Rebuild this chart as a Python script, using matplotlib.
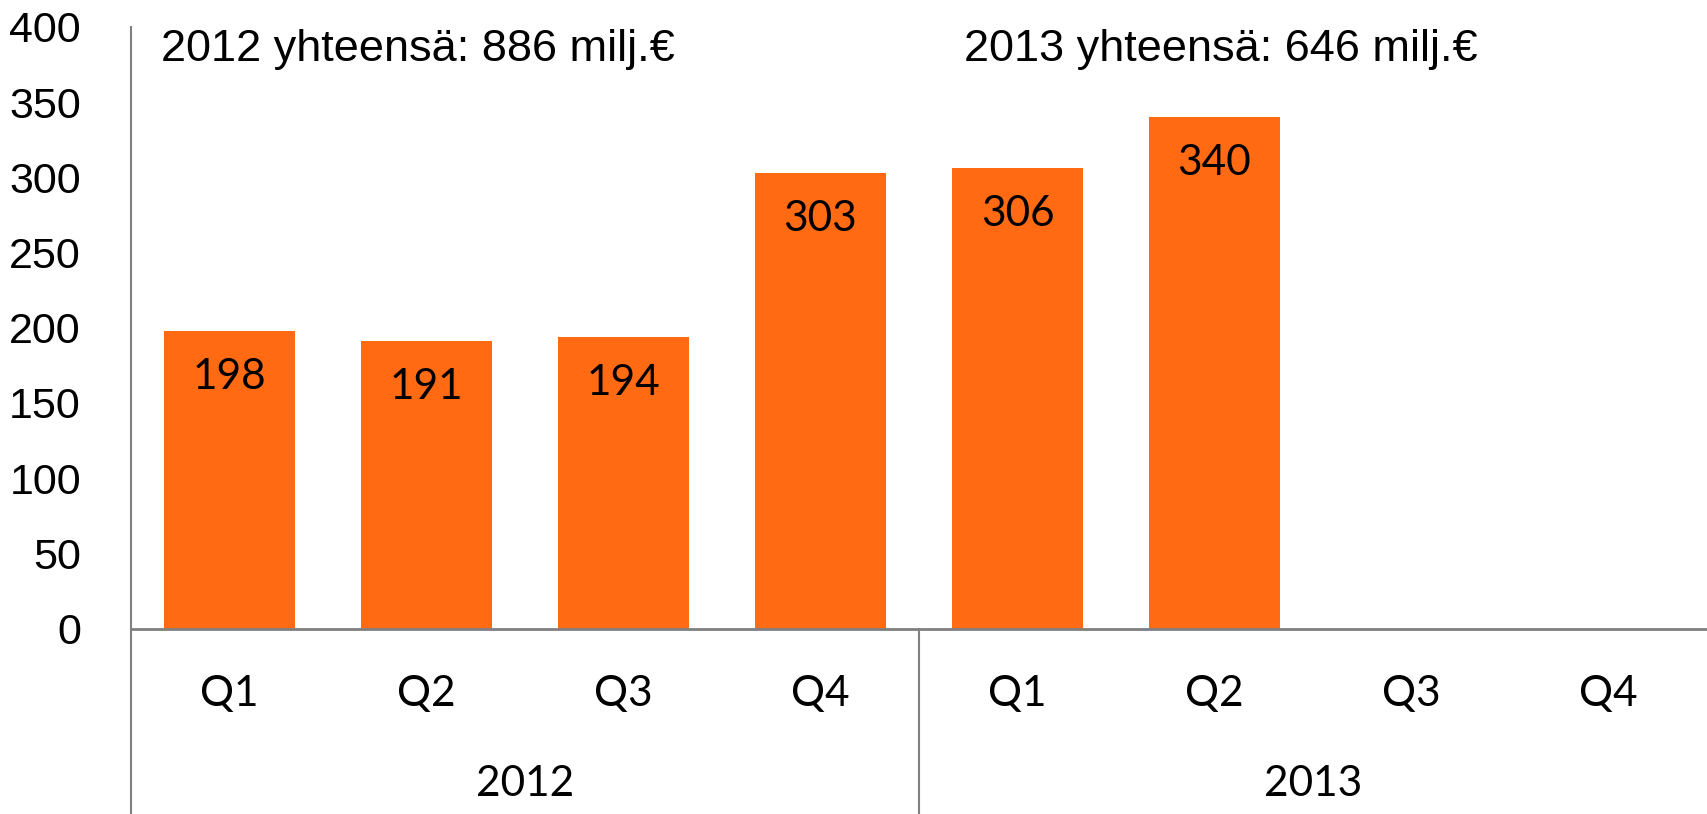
import matplotlib
matplotlib.use('Agg')
import matplotlib.pyplot as plt
import matplotlib.transforms as mtransforms
from matplotlib import font_manager

quarters = ['Q1', 'Q2', 'Q3', 'Q4', 'Q1', 'Q2', 'Q3', 'Q4']
years = ['2012', '2013']
values = [198, 191, 194, 303, 306, 340]
totals = ['2012 yhteensä: 886 milj.€', '2013 yhteensä: 646 milj.€']
yticks = [0, 50, 100, 150, 200, 250, 300, 350, 400]

ORANGE = '#FF6A13'
GRAY = '#808080'

names = {f.name for f in font_manager.fontManager.ttflist}
narrow = 'Liberation Sans Narrow' if 'Liberation Sans Narrow' in names else 'Liberation Sans'
label_font = 'Lato'

W, H = 1708, 814
fig = plt.figure(figsize=(W / 100, H / 100), dpi=100)
ax = fig.add_axes([131 / W, (H - 628.5) / H, (1707 - 131) / W, (628.5 - 27) / H])

xs = list(range(len(values)))
ax.bar(xs, values, width=0.67, color=ORANGE)
for x, v in zip(xs, values):
    ax.annotate(str(v), (x, v), xytext=(0, -33), textcoords='offset points',
                ha='center', va='center', fontsize=30.5, family=label_font, color='black')

ax.set_xlim(-0.5, len(quarters) - 0.5)
ax.set_ylim(0, 400)
ax.set_yticks(yticks)
ax.set_yticklabels([str(t) for t in yticks], fontsize=31, family=narrow)
ax.tick_params(axis='y', length=0, pad=36)
ax.set_xticks([])

for s in ['top', 'right', 'left']:
    ax.spines[s].set_visible(False)
ax.spines['bottom'].set_color(GRAY)
ax.spines['bottom'].set_linewidth(2)

# category axis lines below the plot
bot = -(H - 628.5) / (628.5 - 27)
trans = mtransforms.blended_transform_factory(ax.transData, ax.transAxes)
ax.plot([-0.5, -0.5], [bot, 1], transform=trans, color=GRAY, lw=1.5, clip_on=False)
ax.plot([3.5, 3.5], [bot, 0], transform=trans, color=GRAY, lw=1.5, clip_on=False)

for i, q in enumerate(quarters):
    ax.text(i, -66 / 601.5, q, transform=trans, ha='center', va='center',
            fontsize=30.5, family=label_font)
for j, y in enumerate(years):
    ax.text(1.5 + 4 * j, -156 / 601.5, y, transform=trans, ha='center', va='center',
            fontsize=30.5, family=label_font)

ax.text(-0.35, 1 - 22 / 601.5, totals[0], transform=trans, ha='left', va='center',
        fontsize=32.5, family=narrow)
ax.text(3.73, 1 - 22 / 601.5, totals[1], transform=trans, ha='left', va='center',
        fontsize=32.5, family=narrow)

fig.savefig('out.png', dpi=100)
